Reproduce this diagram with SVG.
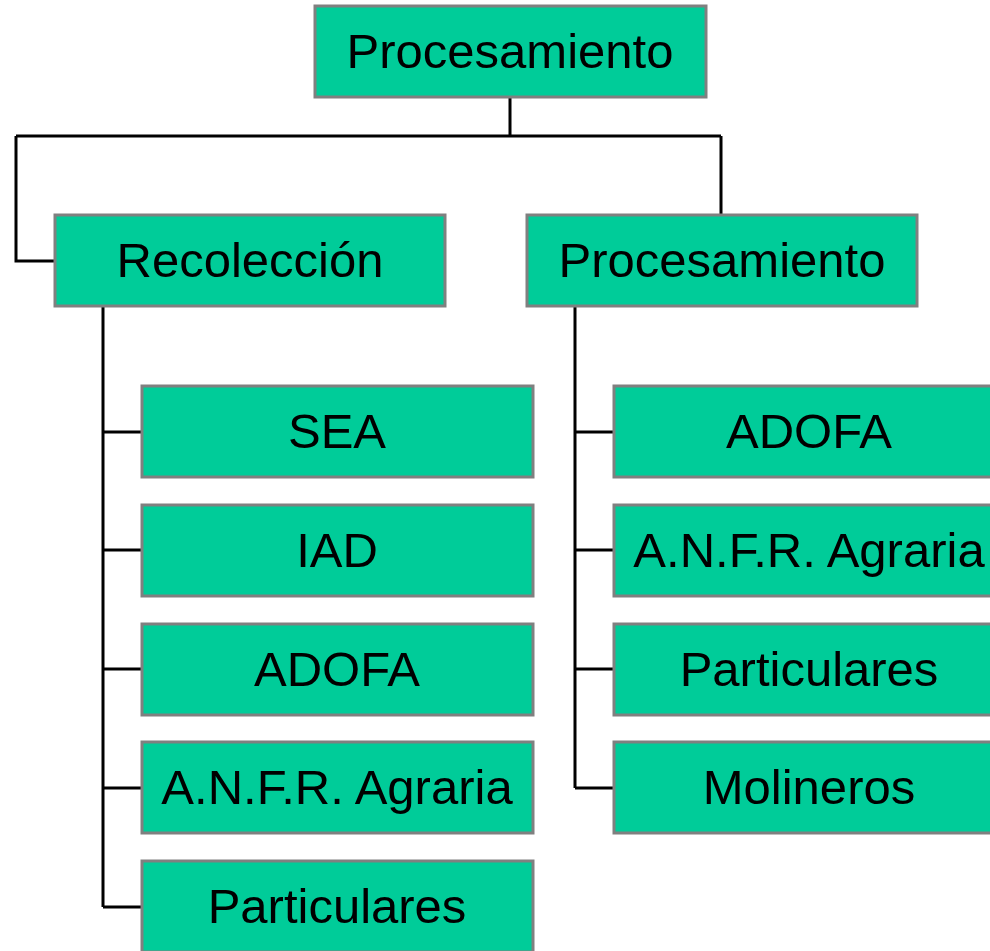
<svg xmlns="http://www.w3.org/2000/svg" width="990" height="951" viewBox="0 0 990 951">
<style>
.box{fill:#00CC99;stroke:#808080;stroke-width:3}
.lbl{font-family:"Liberation Sans",Arial,sans-serif;font-size:49px;fill:#000;text-anchor:middle}
.ln{fill:none;stroke:#000;stroke-width:3}
</style>
<rect width="990" height="951" fill="#fff"/>
<g id="connectors">
<path class="ln" d="M510 97V136M16 136H721M16 136V261H55M721 136V215"/>
<path class="ln" d="M103 306V907M103 432H142M103 550H142M103 669H142M103 788H142M103 907H142"/>
<path class="ln" d="M575 306V788M575 432H614M575 550H614M575 669H614M575 788H614"/>
</g>
<g id="root"><rect class="box" x="315" y="6" width="391" height="91"/><text class="lbl" x="510" y="68">Procesamiento</text></g>
<g id="recoleccion"><rect class="box" x="55" y="215" width="390" height="91"/><text class="lbl" x="250" y="277">Recolección</text></g>
<g id="procesamiento2"><rect class="box" x="527" y="215" width="390" height="91"/><text class="lbl" x="722" y="277">Procesamiento</text></g>
<g id="l-sea"><rect class="box" x="142" y="386" width="391" height="91"/><text class="lbl" x="337" y="448">SEA</text></g>
<g id="l-iad"><rect class="box" x="142" y="505" width="391" height="91"/><text class="lbl" x="337" y="567">IAD</text></g>
<g id="l-adofa"><rect class="box" x="142" y="624" width="391" height="91"/><text class="lbl" x="337" y="686">ADOFA</text></g>
<g id="l-anfr"><rect class="box" x="142" y="742" width="391" height="91"/><text class="lbl" x="337" y="804">A.N.F.R. Agraria</text></g>
<g id="l-part"><rect class="box" x="142" y="861" width="391" height="91"/><text class="lbl" x="337" y="923">Particulares</text></g>
<g id="r-adofa"><rect class="box" x="614" y="386" width="391" height="91"/><text class="lbl" x="809" y="448">ADOFA</text></g>
<g id="r-anfr"><rect class="box" x="614" y="505" width="391" height="91"/><text class="lbl" x="809" y="567">A.N.F.R. Agraria</text></g>
<g id="r-part"><rect class="box" x="614" y="624" width="391" height="91"/><text class="lbl" x="809" y="686">Particulares</text></g>
<g id="r-mol"><rect class="box" x="614" y="742" width="391" height="91"/><text class="lbl" x="809" y="804">Molineros</text></g>
</svg>
